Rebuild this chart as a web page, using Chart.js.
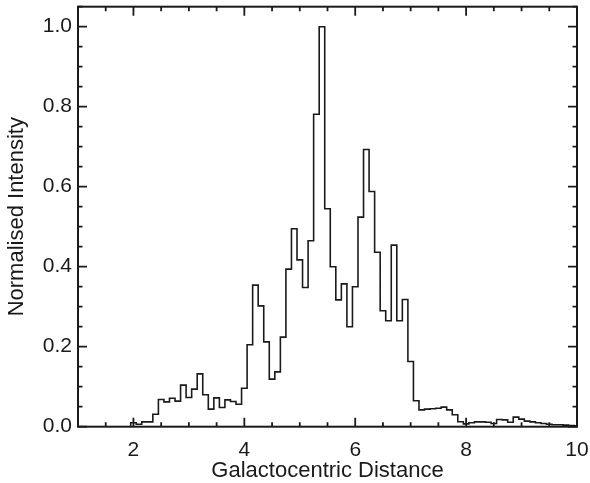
<!DOCTYPE html>
<html>
<head>
<meta charset="utf-8">
<script src="https://cdn.jsdelivr.net/npm/chart.js@4"></script>
<style>
  html, body { margin: 0; padding: 0; background: #fff; }
  #wrap { width: 590px; height: 483px; position: relative; }
</style>
</head>
<body>
<div id="wrap"><canvas id="hist"></canvas></div>
<script>
// bin centres (width 0.1) and normalised intensity
const binCentres = [
  1.9, 2.0, 2.1, 2.2, 2.3, 2.4, 2.5, 2.6, 2.7, 2.8, 2.9,
  3.0, 3.1, 3.2, 3.3, 3.4, 3.5, 3.6, 3.7, 3.8, 3.9,
  4.0, 4.1, 4.2, 4.3, 4.4, 4.5, 4.6, 4.7, 4.8, 4.9,
  5.0, 5.1, 5.2, 5.3, 5.4, 5.5, 5.6, 5.7, 5.8, 5.9,
  6.0, 6.1, 6.2, 6.3, 6.4, 6.5, 6.6, 6.7, 6.8, 6.9,
  7.0, 7.1, 7.2, 7.3, 7.4, 7.5, 7.6, 7.7, 7.8, 7.9,
  8.0, 8.1, 8.2, 8.3, 8.4, 8.5, 8.6, 8.7, 8.8, 8.9,
  9.0, 9.1, 9.2, 9.3, 9.4, 9.5, 9.6, 9.7, 9.8, 9.9, 10.0
];
const intensity = [
  0.000, 0.010, 0.006, 0.012, 0.012, 0.031, 0.068, 0.062, 0.071, 0.064, 0.104,
  0.073, 0.094, 0.132, 0.080, 0.044, 0.072, 0.048, 0.067, 0.063, 0.056,
  0.096, 0.205, 0.354, 0.302, 0.212, 0.119, 0.137, 0.224, 0.394, 0.495,
  0.417, 0.348, 0.465, 0.781, 1.000, 0.545, 0.400, 0.317, 0.357, 0.250,
  0.350, 0.524, 0.693, 0.588, 0.436, 0.290, 0.265, 0.454, 0.265, 0.318,
  0.163, 0.065, 0.042, 0.044, 0.045, 0.046, 0.049, 0.042, 0.030, 0.0125,
  0.007, 0.010, 0.012, 0.012, 0.011, 0.008, 0.018, 0.017, 0.011, 0.024,
  0.019, 0.014, 0.012, 0.010, 0.008, 0.006, 0.005, 0.005, 0.004, 0.003, 0.002
];
const binWidth = 0.1;

const xTickLabels = [2, 4, 6, 8, 10];
const yTickLabels = [0.0, 0.2, 0.4, 0.6, 0.8, 1.0];
const xRange = [1, 10];
const yRange = [0, 1.05];
const xMinorStep = 0.5;
const yMinorStep = 0.05;

const ink = "#1a1a1a";
const fontFamily = "'Liberation Sans', Arial, Helvetica, sans-serif";

// left edge of each bin, plus the right edge of the last one, for a step line
function histogramPoints() {
  const pts = binCentres.map((c, i) => ({ x: c - binWidth / 2, y: intensity[i] }));
  const last = binCentres.length - 1;
  pts.push({ x: binCentres[last] + binWidth / 2, y: intensity[last] });
  return pts;
}

function stepValues(min, max, step) {
  const out = [];
  const n = Math.round((max - min) / step);
  for (let i = 0; i <= n; i++) out.push(+(min + i * step).toFixed(4));
  return out;
}

// IDL-style box with inward ticks on every side
const frameTicks = {
  id: "frameTicks",
  afterDatasetsDraw(chart) {
    const { ctx, chartArea: a, scales: { x, y } } = chart;
    const major = 9;
    const minor = 4.5;

    ctx.save();
    ctx.strokeStyle = ink;
    ctx.lineWidth = 1.8;
    ctx.beginPath();

    stepValues(xRange[0], xRange[1], xMinorStep).forEach(v => {
      const px = x.getPixelForValue(v);
      const len = xTickLabels.includes(v) ? major : minor;
      ctx.moveTo(px, a.bottom);
      ctx.lineTo(px, a.bottom - len);
      ctx.moveTo(px, a.top);
      ctx.lineTo(px, a.top + len);
    });

    stepValues(yRange[0], yRange[1], yMinorStep).forEach(v => {
      const py = y.getPixelForValue(v);
      const len = yTickLabels.some(t => Math.abs(t - v) < 1e-6) ? major : minor;
      ctx.moveTo(a.left, py);
      ctx.lineTo(a.left + len, py);
      ctx.moveTo(a.right, py);
      ctx.lineTo(a.right - len, py);
    });
    ctx.stroke();

    ctx.lineWidth = 2;
    ctx.strokeRect(a.left, a.top, a.right - a.left, a.bottom - a.top);
    ctx.restore();
  }
};

new Chart(document.getElementById("hist"), {
  type: "line",
  data: {
    datasets: [{
      data: histogramPoints(),
      stepped: true,
      borderColor: ink,
      borderWidth: 1.6,
      pointRadius: 0,
      fill: false
    }]
  },
  options: {
    responsive: true,
    maintainAspectRatio: false,
    animation: false,
    events: [],
    layout: { padding: { top: 6.7, right: 13, bottom: 0, left: 0 } },
    plugins: {
      legend: { display: false },
      tooltip: { enabled: false }
    },
    scales: {
      x: {
        type: "linear",
        min: xRange[0],
        max: xRange[1],
        border: { display: false },
        grid: { display: false, drawTicks: false },
        afterBuildTicks: scale => {
          scale.ticks = xTickLabels.map(v => ({ value: v }));
        },
        afterFit: scale => {
          scale.height = 56.3;
          scale.paddingLeft = 0;
          scale.paddingRight = 0;
        },
        ticks: {
          color: ink,
          padding: 10.5,
          maxRotation: 0,
          autoSkip: false,
          font: { family: fontFamily, size: 21 },
          callback: v => String(v)
        },
        title: {
          display: true,
          text: "Galactocentric Distance",
          color: ink,
          padding: { top: 0, bottom: -1 },
          font: { family: fontFamily, size: 22 }
        }
      },
      y: {
        type: "linear",
        min: yRange[0],
        max: yRange[1],
        border: { display: false },
        grid: { display: false, drawTicks: false },
        afterBuildTicks: scale => {
          scale.ticks = yTickLabels.map(v => ({ value: v }));
        },
        afterFit: scale => {
          scale.width = 78;
          scale.paddingTop = 0;
          scale.paddingBottom = 0;
        },
        ticks: {
          color: ink,
          padding: 6,
          autoSkip: false,
          font: { family: fontFamily, size: 21 },
          callback: v => v.toFixed(1)
        },
        title: {
          display: true,
          text: "Normalised Intensity",
          color: ink,
          padding: { top: 3.5, bottom: 0 },
          font: { family: fontFamily, size: 22 }
        }
      }
    }
  },
  plugins: [frameTicks]
});
</script>
</body>
</html>
